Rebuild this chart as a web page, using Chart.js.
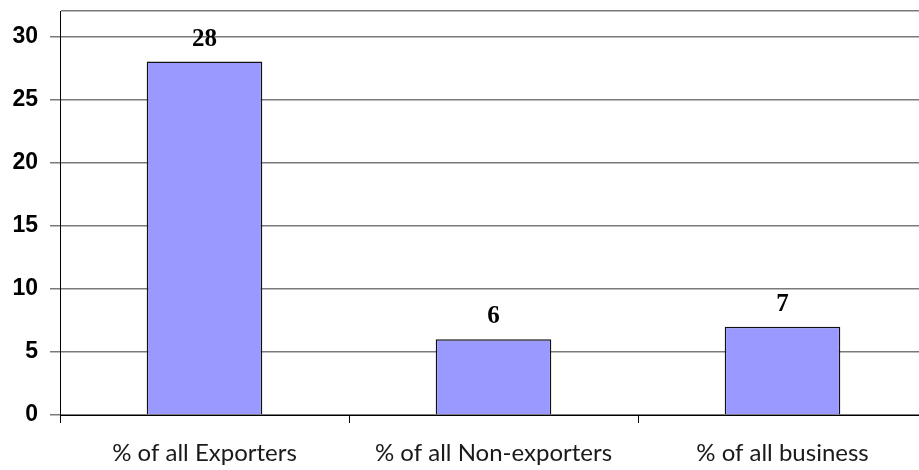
<!DOCTYPE html>
<html>
<head>
<meta charset="utf-8">
<script src="https://cdn.jsdelivr.net/npm/chart.js@4/dist/chart.umd.min.js"></script>
<style>
  html, body { margin: 0; padding: 0; background: #fff; overflow: hidden; }
  #wrap { width: 928px; height: 470px; }
</style>
</head>
<body>
<div id="wrap"><canvas id="chart" width="928" height="470"></canvas></div>
<script>
const categories = ['% of all Exporters', '% of all Non-exporters', '% of all business'];
const values = [28, 6, 7];
const yTicks = [0, 5, 10, 15, 20, 25, 30];
const yMax = 32;

// draws the bold numbers over each bar
const barLabels = {
    id: 'barLabels',
    afterDatasetsDraw(chart) {
        const ctx = chart.ctx;
        const meta = chart.getDatasetMeta(0);
        ctx.save();
        ctx.font = 'bold 25px "Liberation Serif", "Times New Roman", serif';
        ctx.fillStyle = '#000';
        ctx.textAlign = 'center';
        ctx.textBaseline = 'alphabetic';
        meta.data.forEach((bar, i) => {
            ctx.fillText(String(values[i]), bar.x, bar.y - 16);
        });
        ctx.restore();
    }
};

new Chart(document.getElementById('chart'), {
    type: 'bar',
    data: {
        labels: categories,
        datasets: [{
            data: values,
            backgroundColor: '#9999FF',
            borderColor: '#111',
            borderWidth: 1.5,
            barPercentage: 0.4,
            categoryPercentage: 1
        }]
    },
    options: {
        responsive: false,
        animation: false,
        layout: { padding: { top: 11, right: 1, left: 0, bottom: 0 } },
        plugins: { legend: { display: false }, tooltip: { enabled: false } },
        scales: {
            x: {
                grid: { display: true, drawOnChartArea: false, offset: true, tickLength: 8, tickColor: '#000' },
                border: { color: '#000', width: 1 },
                ticks: {
                    color: '#1a1a1a',
                    font: { family: 'Lato, "Open Sans", sans-serif', size: 24 },
                    padding: 16
                },
                afterFit(scale) { scale.height = 55; }
            },
            y: {
                min: 0,
                max: yMax,
                afterBuildTicks(scale) {
                    scale.ticks = yTicks.concat([yMax]).map(v => ({ value: v }));
                },
                ticks: {
                    autoSkip: false,
                    color: '#000',
                    padding: 12,
                    font: { family: '"Liberation Sans", Arial, sans-serif', size: 23, weight: 'bold' },
                    callback: v => (yTicks.includes(v) ? v : '')
                },
                grid: {
                    color: '#7a7a7a',
                    lineWidth: 1.5,
                    tickLength: 10,
                    tickColor: ctx => (ctx.tick && !yTicks.includes(ctx.tick.value) ? 'rgba(0,0,0,0)' : '#7a7a7a')
                },
                border: { color: '#000', width: 1 },
                afterFit(scale) {
                    scale.width = 60;
                    scale.paddingTop = 0;
                    scale.paddingBottom = 0;
                }
            }
        }
    },
    plugins: [barLabels]
});
</script>
</body>
</html>
